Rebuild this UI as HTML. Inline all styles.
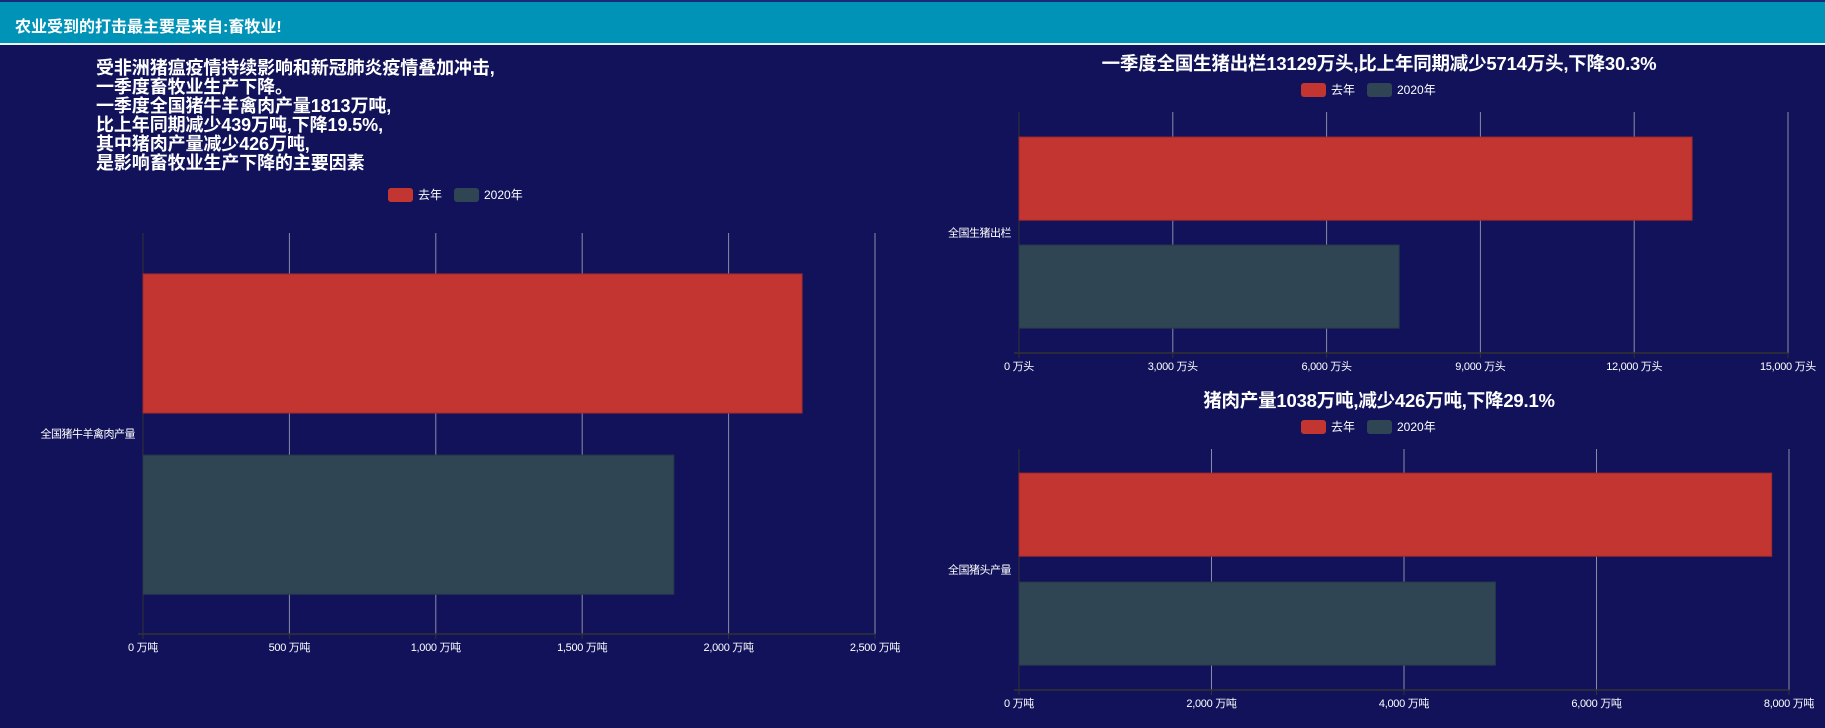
<!DOCTYPE html>
<html><head><meta charset="utf-8">
<style>
html,body{margin:0;padding:0;width:1825px;height:728px;overflow:hidden;background:#11125a;font-family:"Liberation Sans","Noto Sans CJK SC",sans-serif;}
#topline{position:absolute;left:0;top:0;width:1825px;height:2px;background:#1a2a7a;}
#header{position:absolute;left:0;top:2px;width:1825px;height:41px;background:#0093b8;border-bottom:2px solid #e8f4f8;}
#header span{position:absolute;left:15px;top:11px;color:#fff;font-size:16px;font-weight:bold;}
#intro{position:absolute;left:96px;top:59px;color:#fff;font-size:18px;font-weight:bold;line-height:19px;letter-spacing:-0.1px;}
svg{position:absolute;left:0;top:0;}
</style></head><body>
<div id="topline"></div>
<div id="header"><span>农业受到的打击最主要是来自:畜牧业!</span></div>
<div id="intro">受非洲猪瘟疫情持续影响和新冠肺炎疫情叠加冲击,<br>一季度畜牧业生产下降。<br>一季度全国猪牛羊禽肉产量1813万吨,<br>比上年同期减少439万吨,下降19.5%,<br>其中猪肉产量减少426万吨,<br>是影响畜牧业生产下降的主要因素</div>
<svg id="chart" width="1825" height="728"></svg>
<script>
const seriesNames = ['去年','2020年'];
const seriesColors = ['#c23531','#2f4554'];
const chart1Category = '全国猪牛羊禽肉产量';
const chart1Values = [2251, 1813];
const chart1Ticks = [0,500,1000,1500,2000,2500];
const chart2Category = '全国生猪出栏';
const chart2Values = [13129, 7415];
const chart2Ticks = [0,3000,6000,9000,12000,15000];
const chart3Category = '全国猪头产量';
const chart3Values = [7820, 4950];
const chart3Ticks = [0,2000,4000,6000,8000];

const NS='http://www.w3.org/2000/svg';
const svg=document.getElementById('chart');
function mk(tag,attrs,parent){const e=document.createElementNS(NS,tag);for(const k in attrs)e.setAttribute(k,attrs[k]);(parent||svg).appendChild(e);return e;}

function drawChart(cfg){
  const g=mk('g',{});
  
  
  const max=cfg.ticks[cfg.ticks.length-1];
  const xs=v=>cfg.x0+(v/max)*(cfg.x1-cfg.x0);
  if(cfg.title){
    const t=mk('text',{x:cfg.titleX,y:cfg.titleY,fill:'#fff','font-size':18.5,'font-weight':'bold','text-anchor':'middle','letter-spacing':'-0.2'},g);
    
    
    t.textContent=cfg.title;
  }
  let lx=cfg.legendX;
  seriesNames.forEach((n,i)=>{
    const r=mk('rect',{x:lx,y:cfg.legendY-7,width:25,height:14,rx:3,fill:seriesColors[i]},g);
    
    
    const t=mk('text',{x:lx+30,y:cfg.legendY+4,fill:'#fff','font-size':12},g);
    
    
    t.textContent=n;
    lx+=66;
  });
  cfg.ticks.forEach(v=>{
    const x=xs(v);
    if(v>0){
      const l=mk('line',{x1:x,x2:x,y1:cfg.top,y2:cfg.axisY,stroke:'#8a8aa8','stroke-width':1},g);
      
      
    }
    const tk=mk('line',{x1:x,x2:x,y1:cfg.axisY,y2:cfg.axisY+5,stroke:'#333','stroke-width':1},g);
    
    
    const t=mk('text',{x:x,y:cfg.axisY+17,fill:'#fff','font-size':11,'text-anchor':'middle','letter-spacing':'-0.3'},g);
    
    
    t.textContent=v.toLocaleString('en-US')+' '+cfg.unit;
  });
  const yl=mk('line',{x1:cfg.x0,x2:cfg.x0,y1:cfg.top,y2:cfg.axisY,stroke:'#333','stroke-width':1},g);
  
  
  const xl=mk('line',{x1:cfg.x0-5,x2:cfg.x1,y1:cfg.axisY,y2:cfg.axisY,stroke:'#333','stroke-width':1.5},g);
  
  
  const band=cfg.axisY-cfg.top;
  cfg.values.forEach((v,i)=>{
    const y=cfg.top+band*cfg.barStart[i];
    const r=mk('rect',{x:cfg.x0,y:y,width:xs(v)-cfg.x0,height:band*cfg.barH,fill:seriesColors[i],stroke:i?'#263a48':'#a02a2a','stroke-width':1},g);
    
    
  });
  const c=mk('text',{x:cfg.x0-8,y:(cfg.top+cfg.axisY)/2+4,fill:'#fff','font-size':11,'text-anchor':'end','letter-spacing':'-0.5'},g);
  
  
  c.textContent=cfg.category;
}
drawChart({name:'livestock-meat-chart',title:null,legendX:388,legendY:195,x0:143,x1:875,top:233,axisY:634,ticks:chart1Ticks,values:chart1Values,category:chart1Category,unit:'万吨',barStart:[0.102,0.554],barH:0.347});
drawChart({name:'hog-slaughter-chart',title:'一季度全国生猪出栏13129万头,比上年同期减少5714万头,下降30.3%',titleX:1379,titleY:70,legendX:1301,legendY:90,x0:1019,x1:1788,top:112,axisY:353,ticks:chart2Ticks,values:chart2Values,category:chart2Category,unit:'万头',barStart:[0.104,0.552],barH:0.345});
drawChart({name:'pork-output-chart',title:'猪肉产量1038万吨,减少426万吨,下降29.1%',titleX:1379,titleY:407,legendX:1301,legendY:427,x0:1019,x1:1789,top:449,axisY:690,ticks:chart3Ticks,values:chart3Values,category:chart3Category,unit:'万吨',barStart:[0.1,0.552],barH:0.345});
</script>
</body></html>
